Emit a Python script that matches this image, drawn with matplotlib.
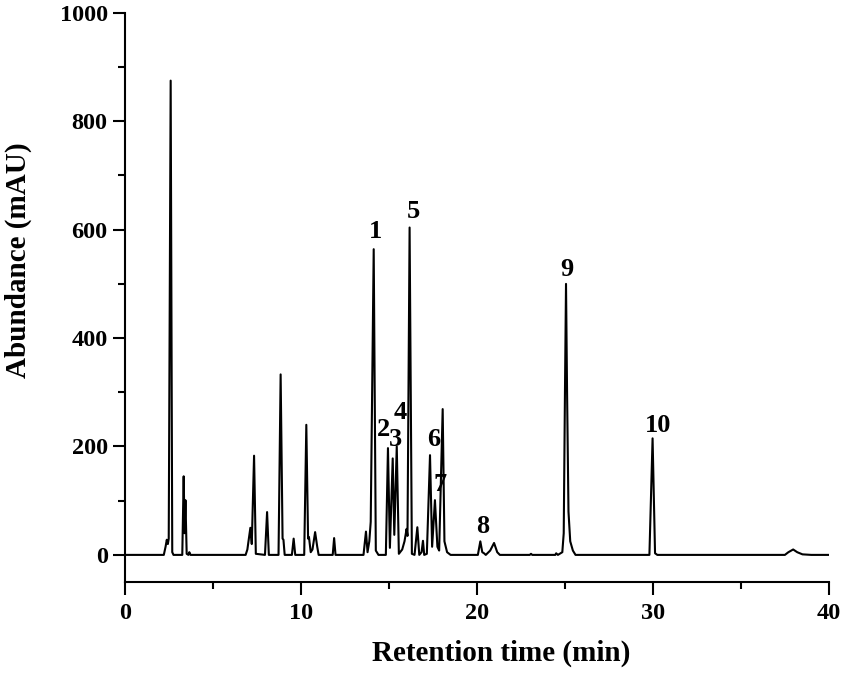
import matplotlib
matplotlib.use("Agg")
import matplotlib.pyplot as plt
from matplotlib.ticker import MultipleLocator

plt.rcParams["font.family"] = "Liberation Serif"
plt.rcParams["font.weight"] = "bold"

# chromatogram trace (vertices of the polyline)
time_min = [
    0.0, 2.2, 2.3, 2.37, 2.43, 2.48, 2.59, 2.68, 2.75,
    3.25, 3.33, 3.38, 3.43, 3.5, 3.6, 3.65, 3.72,
    6.85, 6.95, 7.0, 7.12, 7.2, 7.33, 7.43,
    7.95, 8.07, 8.17,
    8.72, 8.84, 8.95, 9.0, 9.07,
    9.48, 9.58, 9.67,
    10.18, 10.3, 10.4, 10.45, 10.55, 10.65, 10.8, 10.92, 11.0,
    11.8, 11.88, 11.96,
    13.55, 13.69, 13.78, 13.88, 13.96, 14.13, 14.25, 14.4,
    14.82, 14.94, 15.05, 15.21, 15.3, 15.44, 15.56,
    15.75, 15.88, 16.0, 16.05, 16.17, 16.3, 16.45,
    16.61, 16.72, 16.85, 16.93, 17.0,
    17.15, 17.33, 17.45, 17.61, 17.75, 17.85, 18.05, 18.15, 18.3, 18.5,
    20.05, 20.19, 20.3, 20.4, 20.5, 20.75, 20.97, 21.15, 21.3,
    23.0, 23.07, 23.14, 24.45, 24.5, 24.6,
    24.85, 24.93, 25.0, 25.06, 25.12, 25.2, 25.3, 25.45, 25.6,
    29.8, 29.98, 30.12, 30.25,
    37.5, 37.7, 37.97, 38.2, 38.5, 39.0, 40.0,
]
abundance = [
    0, 0, 15, 28, 20, 30, 875, 5, 0,
    0, 145, 40, 101, 2, 0, 5, 0,
    0, 10, 22, 50, 20, 183, 2,
    0, 79, 0,
    0, 333, 30, 28, 0,
    0, 30, 0,
    0, 240, 30, 33, 5, 10, 42, 15, 0,
    0, 31, 0,
    0, 43, 5, 25, 61, 564, 8, 0,
    0, 197, 13, 178, 37, 200, 2,
    10, 25, 48, 35, 604, 2, 0,
    51, 0, 5, 26, 0,
    2, 184, 15, 101, 15, 8, 269, 25, 5, 0,
    0, 25, 5, 3, 0, 8, 22, 5, 0,
    0, 2, 0, 0, 3, 0,
    5, 40, 300, 500, 300, 80, 25, 8, 0,
    0, 215, 3, 0,
    0, 5, 10, 5, 1, 0, 0,
]

# peak labels
peak_labels = ["1", "2", "3", "4", "5", "6", "7", "8", "9", "10"]
label_t = [14.26, 14.66, 15.34, 15.63, 16.36, 17.56, 17.9, 20.34, 25.11, 30.28]
label_y = [596, 231, 212, 262, 633, 212, 129, 52, 526, 238]

fig = plt.figure(figsize=(8.51, 6.78), dpi=100)
ax = fig.add_axes([0.147, 0.1416, 0.827, 0.8394])

ax.plot(time_min, abundance, color="black", lw=1.5)

for lab, t, y in zip(peak_labels, label_t, label_y):
    ax.text(t, y, lab, ha="center", va="center", fontsize=19, fontweight="bold")

ax.set_xlim(0, 40)
ax.set_ylim(-50, 1000)
ax.xaxis.set_major_locator(MultipleLocator(10))
ax.xaxis.set_minor_locator(MultipleLocator(5))
ax.set_yticks([0, 200, 400, 600, 800, 1000])
ax.yaxis.set_minor_locator(MultipleLocator(100))

for s in ["top", "right"]:
    ax.spines[s].set_visible(False)
for s in ["left", "bottom"]:
    ax.spines[s].set_linewidth(1.5)

ax.tick_params(which="major", direction="out", length=9, width=1.5, labelsize=17.5)
ax.tick_params(which="minor", direction="out", length=5, width=1.5)
ax.tick_params(axis="x", which="major", pad=6)
ax.set_ylim(-50, 1000)

ax.set_xlabel("Retention time (min)", fontsize=21, fontweight="bold", va="center")
ax.set_ylabel("Abundance (mAU)", fontsize=21, fontweight="bold", va="center")
# label centres as measured on the reference (axes fractions)
ax.xaxis.set_label_coords(0.535, -0.125)
ax.yaxis.set_label_coords(-0.152, 0.565)

fig.savefig("out.png", dpi=100)
